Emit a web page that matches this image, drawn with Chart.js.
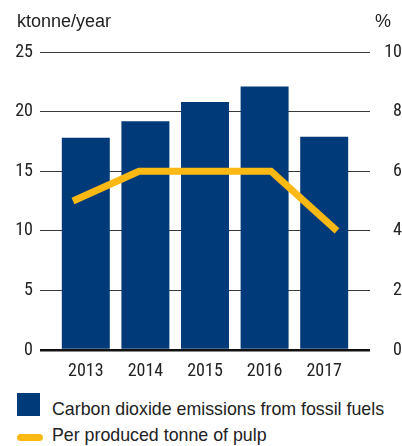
<!DOCTYPE html>
<html>
<head>
<meta charset="utf-8">
<script src="https://cdn.jsdelivr.net/npm/chart.js@4/dist/chart.umd.min.js"></script>
<style>
  html, body { margin: 0; padding: 0; background: #fff; }
  body { width: 402px; height: 446px; position: relative; overflow: hidden;
         font-family: 'Liberation Sans', Arial, sans-serif; color: #222; }
  #wrap { position: absolute; left: 0; top: 0; width: 402px; height: 385px; }
  .t { position: absolute; font-size: 18px; line-height: 18px; white-space: nowrap; }
  .sw { position: absolute; }
</style>
</head>
<body>
<div id="wrap"><canvas id="c"></canvas></div>
<div class="t" id="lt" style="left:17px; top:12px;"></div>
<div class="t" id="rt" style="right:11px; top:12px;"></div>
<div class="sw" style="left:17px; top:393px; width:23px; height:23px; background:#003a78;"></div>
<div class="t" id="l1" style="left:52px; top:400px; font-size:17.8px;"></div>
<div class="sw" style="left:17px; top:434px; width:26px; height:7px; border-radius:4px; background:#fdb913;"></div>
<div class="t" id="l2" style="left:52px; top:426px; font-size:17.8px;"></div>
<script>
const years = ['2013', '2014', '2015', '2016', '2017'];
const co2Emissions = [17.8, 19.2, 20.8, 22.1, 17.9];      // ktonne/year
const perTonnePulp = [5, 6, 6, 6, 4];                       // %
const leftTicks = [0, 5, 10, 15, 20, 25];
const rightTicks = [0, 2, 4, 6, 8, 10];
const leftUnit = 'ktonne/year';
const rightUnit = '%';
const seriesNames = ['Carbon dioxide emissions from fossil fuels', 'Per produced tonne of pulp'];

document.getElementById('lt').textContent = leftUnit;
document.getElementById('rt').textContent = rightUnit;
document.getElementById('l1').textContent = seriesNames[0];
document.getElementById('l2').textContent = seriesNames[1];

const FONT = "'Roboto Condensed', 'Liberation Sans Narrow', 'Arial Narrow', sans-serif";
const NAVY = '#003a78';
const YELLOW = '#fdb913';
const GRID = '#3a3a3a';

const gridW = (ctx) => (ctx.tick && ctx.tick.value === 0 ? 2.5 : 1);
const gridC = (ctx) => (ctx.tick && ctx.tick.value === 0 ? '#111' : GRID);

new Chart(document.getElementById('c'), {
  data: {
    labels: years,
    datasets: [
      {
        type: 'line',
        label: seriesNames[1],
        data: perTonnePulp.map((v, i) => ({ x: i, y: v })),
        xAxisID: 'xl',
        yAxisID: 'y2',
        borderColor: YELLOW,
        borderWidth: 7,
        borderCapStyle: 'butt',
        borderJoinStyle: 'miter',
        pointRadius: 0,
        tension: 0,
        order: 0
      },
      {
        type: 'bar',
        label: seriesNames[0],
        data: co2Emissions,
        xAxisID: 'x',
        yAxisID: 'y',
        backgroundColor: NAVY,
        grouped: false,
        categoryPercentage: 1,
        barPercentage: 0.805,
        order: 1
      }
    ]
  },
  options: {
    responsive: true,
    maintainAspectRatio: false,
    animation: false,
    layout: { padding: { top: 52, bottom: 0, left: 0, right: 0 } },
    plugins: { legend: { display: false }, tooltip: { enabled: false } },
    scales: {
      x: {
        type: 'category',
        offset: true,
        grid: { display: false },
        border: { display: false },
        ticks: { color: '#222', font: { family: FONT, size: 18 }, padding: 3, maxRotation: 0 },
        afterFit: (s) => { s.height = 35; }
      },
      xl: {
        type: 'linear',
        display: false,
        min: -0.2576,
        max: 4.2576
      },
      y: {
        position: 'left',
        min: 0, max: 25,
        afterBuildTicks: (s) => { s.ticks = leftTicks.map(v => ({ value: v })); },
        grid: { color: gridC, lineWidth: gridW, tickLength: 16, drawTicks: true, tickColor: gridC, tickWidth: gridW },
        border: { display: false },
        ticks: { color: '#222', font: { family: FONT, size: 18 }, padding: 7 },
        afterFit: (s) => { s.width = 56; }
      },
      y2: {
        position: 'right',
        min: 0, max: 10,
        afterBuildTicks: (s) => { s.ticks = rightTicks.map(v => ({ value: v })); },
        grid: { drawOnChartArea: false, tickLength: 16, color: gridC, lineWidth: gridW, tickColor: gridC, tickWidth: gridW },
        border: { display: false },
        ticks: { color: '#222', font: { family: FONT, size: 18 }, padding: 3, crossAlign: 'far' },
        afterFit: (s) => { s.width = 48; }
      }
    }
  }
});
</script>
</body>
</html>
